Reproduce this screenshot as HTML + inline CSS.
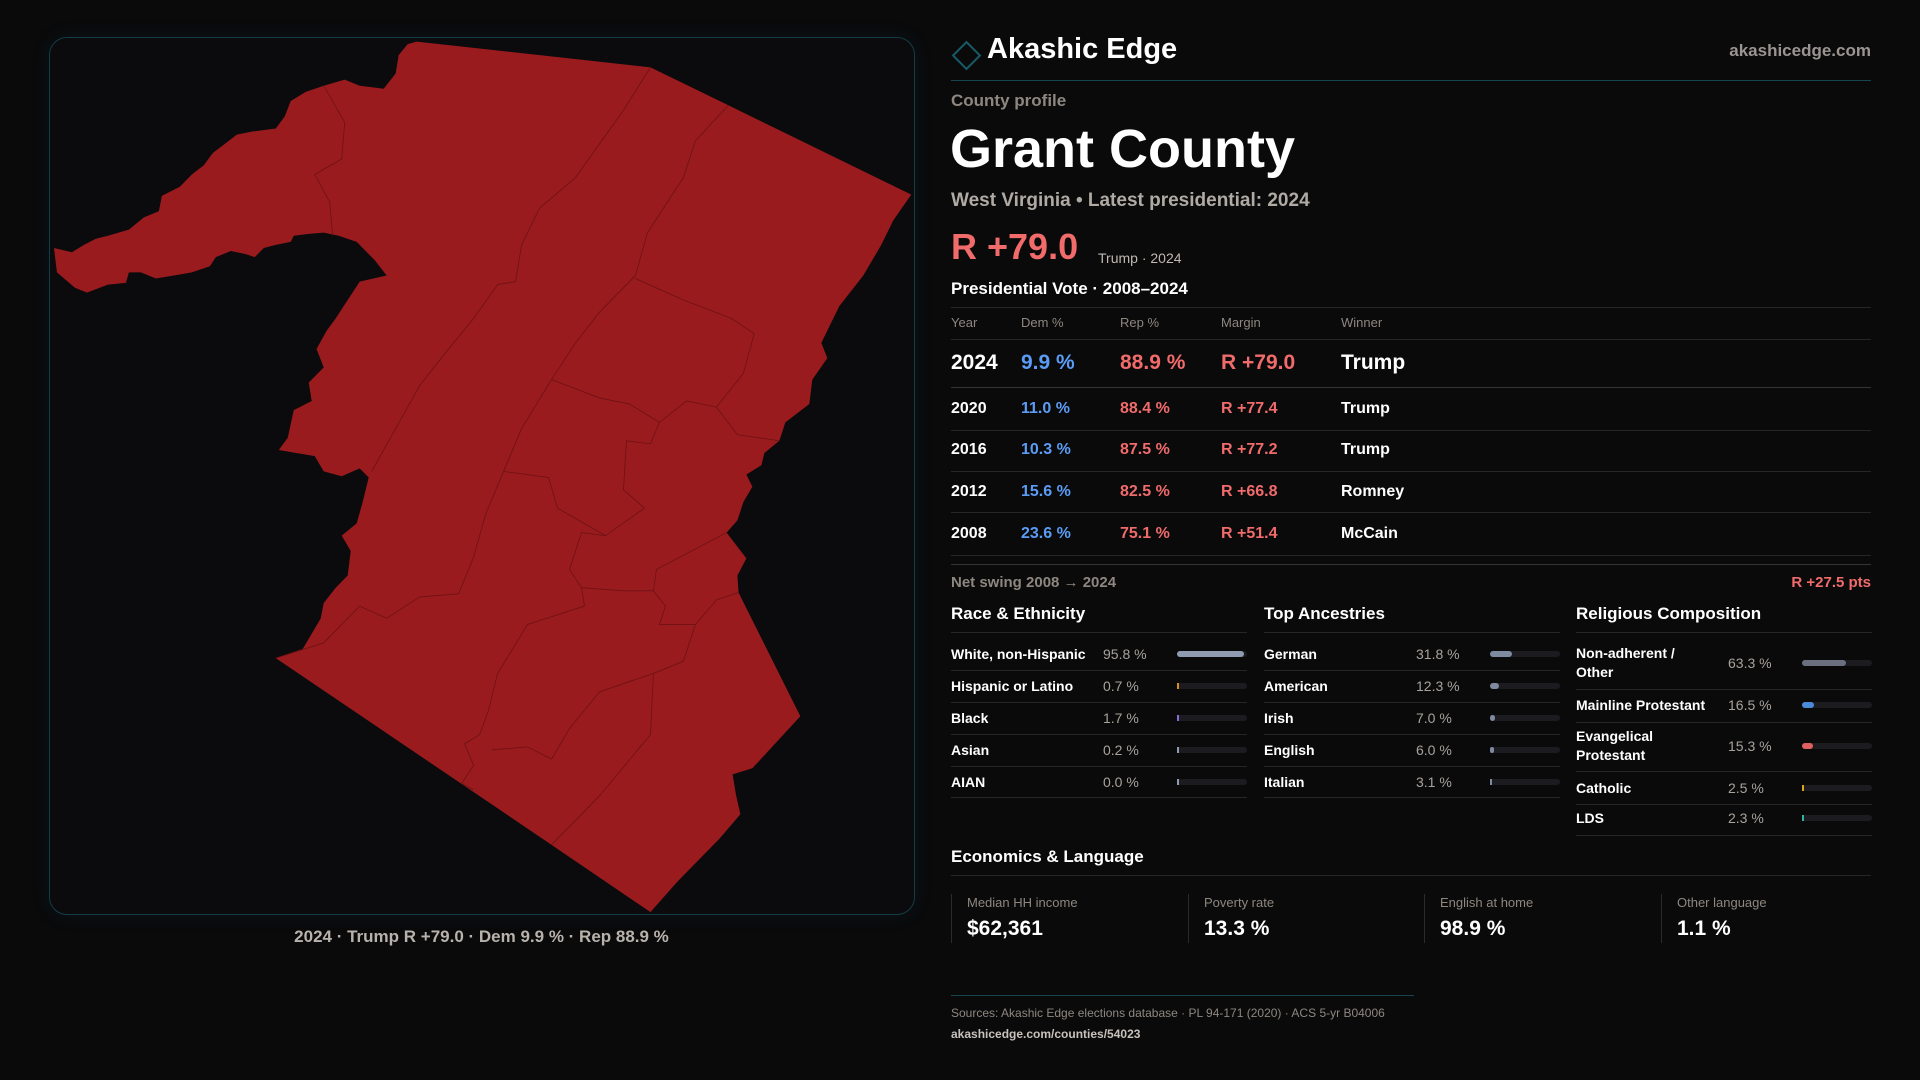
<!DOCTYPE html>
<html><head><meta charset="utf-8"><title>Grant County profile</title>
<style>
html,body{margin:0;padding:0;background:#0a0a0b;}
body{width:1920px;height:1080px;position:relative;overflow:hidden;font-family:"Liberation Sans",sans-serif;color:#fff;}
.t{position:absolute;white-space:nowrap;line-height:1;}
.hl{position:absolute;height:1px;background:#26262a;}
.g{color:#8e8780;}
.b{color:#5b9cf5;}
.r{color:#f26b6b;}
.lbl{font-size:14px;color:#fff;font-weight:bold;}
.val{font-size:14px;color:#a8a29c;}
.row .t{font-weight:bold;}
</style></head>
<body>

<div style="position:absolute;left:49px;top:37px;width:864px;height:876px;border:1px solid #123c46;border-radius:18px;background:#0b0b0d;box-shadow:0 0 18px rgba(20,80,100,0.15);"></div>
<svg width="1920" height="1080" style="position:absolute;left:0;top:0;">
<g transform="scale(0.5995,0.6122)">
<path fill="#9a1b1e" stroke="none" d="M695,68 L1085,110 L1215,172 L1520,318 L1490,360 L1470,400 L1440,450 L1400,500 L1370,560 L1380,585 L1355,620 L1350,660 L1310,690 L1300,720 L1275,740 L1270,760 L1245,775 L1255,795 L1240,820 L1230,850 L1212,870 L1245,912 L1230,940 L1232,968 L1335,1170 L1255,1255 L1222,1265 L1228,1300 L1235,1330 L1200,1370 L1160,1410 L1130,1440 L1085,1490 L920,1380 L460,1075 L505,1060 L520,1035 L535,1010 L540,985 L560,960 L580,940 L585,900 L570,875 L595,855 L605,820 L615,780 L600,765 L570,778 L540,770 L525,745 L465,735 L480,715 L490,670 L520,655 L515,625 L540,600 L528,570 L545,540 L560,520 L580,490 L600,460 L645,450 L625,425 L610,410 L595,395 L565,385 L540,380 L515,382 L490,385 L485,395 L460,400 L440,405 L425,420 L410,415 L385,410 L360,420 L350,435 L320,445 L290,450 L260,455 L235,445 L215,445 L210,462 L180,465 L145,478 L125,470 L95,445 L90,405 L120,412 L140,400 L160,390 L180,385 L215,375 L240,355 L265,345 L270,320 L300,305 L320,285 L340,270 L355,250 L375,235 L395,220 L420,215 L460,210 L475,190 L485,165 L510,150 L540,140 L575,130 L600,140 L640,145 L660,120 L665,90 L680,72 Z"/>
<g fill="none" stroke="#6e1214" stroke-width="1.4">
<path d="M1085,110 L1040,180 L960,290 L900,340 L870,400 L860,460 L830,465 L790,520 L740,580 L700,630 L620,770"/>
<path d="M1215,172 L1160,230 L1140,290 L1080,380 L1060,450 L1000,510 L960,560 L920,620 L870,700 L840,770 L810,840 L790,910 L765,970 L700,975 L645,1010 L600,990 L570,1020 L540,1050 L460,1075"/>
<path d="M1060,455 L1140,490 L1220,520 L1258,545 L1240,610 L1195,665 L1230,710 L1300,720"/>
<path d="M920,620 L1000,650 L1050,660 L1100,690 L1145,655 L1195,665"/>
<path d="M1100,690 L1085,725 L1045,720 L1040,800 L1075,830 L1010,875 L930,830 L915,780 L840,770"/>
<path d="M1212,870 L1095,930 L1090,965 L1040,965 L970,960 L950,930 L970,870 L1010,875"/>
<path d="M1232,968 L1195,980 L1160,1020 L1140,1080 L1090,1100 L1085,1200 L1000,1300 L920,1380"/>
<path d="M1090,965 L1110,990 L1100,1020 L1160,1020"/>
<path d="M970,960 L975,990 L880,1020 L830,1100 L815,1160 L800,1200 L775,1215 L790,1250 L770,1280 L790,1290"/>
<path d="M1090,1100 L1000,1130 L950,1190 L920,1240 L880,1220 L820,1225"/>
<path d="M540,140 L575,200 L570,260 L525,285 L550,330 L555,385"/>
</g>
</g>
</svg>
<div class="t" style="left:0;width:963px;text-align:center;top:928px;font-size:17px;color:#b8b2ac;font-weight:bold;">2024 · Trump R +79.0 · Dem 9.9 % · Rep 88.9 %</div>

<div style="position:absolute;left:956px;top:45px;width:17px;height:17px;border:2px solid #175a68;transform:rotate(45deg);"></div>
<div class="t" style="left:987px;top:35px;font-size:29px;font-weight:bold;">Akashic Edge</div>
<div class="t" style="right:49px;top:42px;font-size:17px;color:#9a9590;font-weight:bold;">akashicedge.com</div>
<div class="hl" style="left:951px;width:920px;top:80px;background:#16444f;"></div>

<div class="t g" style="left:951px;top:92px;font-size:17px;font-weight:bold;">County profile</div>
<div class="t" style="left:950px;top:122px;font-size:54px;font-weight:bold;">Grant County</div>
<div class="t" style="left:951px;top:191px;font-size:19px;color:#b0aaa4;font-weight:bold;">West Virginia • Latest presidential: 2024</div>
<div class="t r" style="left:951px;top:229px;font-size:36px;font-weight:bold;">R +79.0</div>
<div class="t" style="left:1098px;top:251px;font-size:14px;color:#c0b8b0;">Trump · 2024</div>
<div class="t" style="left:951px;top:280px;font-size:17px;font-weight:bold;">Presidential Vote · 2008–2024</div>

<div class="hl" style="left:951px;width:920px;top:307px;"></div>
<div>
<div class="t g" style="left:951px;top:316px;font-size:13px;">Year</div>
<div class="t g" style="left:1021px;top:316px;font-size:13px;">Dem %</div>
<div class="t g" style="left:1120px;top:316px;font-size:13px;">Rep %</div>
<div class="t g" style="left:1221px;top:316px;font-size:13px;">Margin</div>
<div class="t g" style="left:1341px;top:316px;font-size:13px;">Winner</div>
</div>
<div class="hl" style="left:951px;width:920px;top:339px;"></div>
<div class="row">
<div class="t" style="left:951px;top:352px;font-size:21px;">2024</div>
<div class="t b" style="left:1021px;top:352px;font-size:21px;">9.9 %</div>
<div class="t r" style="left:1120px;top:352px;font-size:21px;">88.9 %</div>
<div class="t r" style="left:1221px;top:352px;font-size:21px;">R +79.0</div>
<div class="t" style="left:1341px;top:352px;font-size:21px;">Trump</div>
</div>
<div class="hl" style="left:951px;width:920px;top:387px;background:#333338;"></div>
<div class="row">
<div class="t" style="left:951px;top:401px;font-size:16px;">2020</div>
<div class="t b" style="left:1021px;top:401px;font-size:16px;">11.0 %</div>
<div class="t r" style="left:1120px;top:401px;font-size:16px;">88.4 %</div>
<div class="t r" style="left:1221px;top:401px;font-size:16px;">R +77.4</div>
<div class="t" style="left:1341px;top:401px;font-size:16px;">Trump</div>
</div>
<div class="hl" style="left:951px;width:920px;top:430px;"></div>
<div class="row">
<div class="t" style="left:951px;top:442px;font-size:16px;">2016</div>
<div class="t b" style="left:1021px;top:442px;font-size:16px;">10.3 %</div>
<div class="t r" style="left:1120px;top:442px;font-size:16px;">87.5 %</div>
<div class="t r" style="left:1221px;top:442px;font-size:16px;">R +77.2</div>
<div class="t" style="left:1341px;top:442px;font-size:16px;">Trump</div>
</div>
<div class="hl" style="left:951px;width:920px;top:471px;"></div>
<div class="row">
<div class="t" style="left:951px;top:484px;font-size:16px;">2012</div>
<div class="t b" style="left:1021px;top:484px;font-size:16px;">15.6 %</div>
<div class="t r" style="left:1120px;top:484px;font-size:16px;">82.5 %</div>
<div class="t r" style="left:1221px;top:484px;font-size:16px;">R +66.8</div>
<div class="t" style="left:1341px;top:484px;font-size:16px;">Romney</div>
</div>
<div class="hl" style="left:951px;width:920px;top:512px;"></div>
<div class="row">
<div class="t" style="left:951px;top:526px;font-size:16px;">2008</div>
<div class="t b" style="left:1021px;top:526px;font-size:16px;">23.6 %</div>
<div class="t r" style="left:1120px;top:526px;font-size:16px;">75.1 %</div>
<div class="t r" style="left:1221px;top:526px;font-size:16px;">R +51.4</div>
<div class="t" style="left:1341px;top:526px;font-size:16px;">McCain</div>
</div>
<div class="hl" style="left:951px;width:920px;top:555px;"></div>
<div class="hl" style="left:951px;width:920px;top:564px;background:#333338;"></div>

<div class="t g" style="left:951px;top:575px;font-size:15px;font-weight:bold;">Net swing 2008 → 2024</div>
<div class="t r" style="right:49px;top:575px;font-size:15px;font-weight:bold;">R +27.5 pts</div>

<div class="t" style="left:951px;top:605px;font-size:17px;font-weight:bold;">Race &amp; Ethnicity</div>
<div class="t" style="left:1264px;top:605px;font-size:17px;font-weight:bold;">Top Ancestries</div>
<div class="t" style="left:1576px;top:605px;font-size:17px;font-weight:bold;">Religious Composition</div>
<div id="demo"></div>

<div class="t" style="left:951px;top:848px;font-size:17px;font-weight:bold;">Economics &amp; Language</div>
<div class="hl" style="left:951px;width:920px;top:875px;"></div>
<div id="econ"></div>

<div class="hl" style="left:951px;width:463px;top:995px;background:#16444f;"></div>
<div class="t g" style="left:951px;top:1007px;font-size:12px;">Sources: Akashic Edge elections database · PL 94-171 (2020) · ACS 5-yr B04006</div>
<div class="t" style="left:951px;top:1028px;font-size:12px;color:#c8c2bc;font-weight:bold;">akashicedge.com/counties/54023</div>

<script>
const raceLabels = ["White, non-Hispanic","Hispanic or Latino","Black","Asian","AIAN"];
const raceValues = [95.8, 0.7, 1.7, 0.2, 0.0];
const ancLabels = ["German","American","Irish","English","Italian"];
const ancValues = [31.8, 12.3, 7.0, 6.0, 3.1];
const relLabels = ["Non-adherent /\nOther","Mainline Protestant","Evangelical\nProtestant","Catholic","LDS"];
const relValues = [63.3, 16.5, 15.3, 2.5, 2.3];
const econLabels = ["Median HH income","Poverty rate","English at home","Other language"];
const econValues = ["$62,361","13.3 %","98.9 %","1.1 %"];

const raceColors = ["#8e9bb0","#d98a2b","#8a6ad8","#8e9bb0","#8e9bb0"];
const ancColors = ["#7e8aa0","#7e8aa0","#7e8aa0","#7e8aa0","#7e8aa0"];
const relColors = ["#6a7080","#4a8ad8","#e06060","#d9a520","#2bb5a8"];

const demo = document.getElementById('demo');
function barW(v, w){ return Math.max(2, v/100*w); }
function addCol(x, labels, values, colors, centers, lines, key){
  const W = 296;
  const hl = document.createElement('div');
  hl.className='hl'; hl.style.left=x+'px'; hl.style.width=W+'px'; hl.style.top='632px';
  demo.appendChild(hl);
  labels.forEach((lab,i)=>{
    const cy = centers[i];
    const row = document.createElement('div');
    
    
    const two = lab.indexOf('\n')>=0;
    const l = document.createElement('div');
    l.className='t lbl';
    l.style.left=x+'px';
    l.style.lineHeight= two ? '19px':'1';
    l.style.top=(two? cy-19 : cy-7)+'px';
    l.style.whiteSpace='pre';
    l.textContent=lab;
    row.appendChild(l);
    const v = document.createElement('div');
    v.className='t val';
    v.style.left=(x+152)+'px'; v.style.top=(cy-7)+'px';
    v.textContent=values[i].toFixed(1)+' %';
    row.appendChild(v);
    const tr = document.createElement('div');
    
    
    tr.style.cssText='position:absolute;left:'+(x+226)+'px;top:'+(cy-3)+'px;width:70px;height:6px;border-radius:3px;background:#1c1c20;';
    row.appendChild(tr);
    const b = document.createElement('div');
    
    
    const bw = barW(values[i],70);
    b.style.cssText='position:absolute;left:'+(x+226)+'px;top:'+(cy-3)+'px;width:'+bw+'px;height:6px;border-radius:'+(bw>4?3:0)+'px;background:'+colors[i]+';';
    row.appendChild(b);
    demo.appendChild(row);
    const ln = document.createElement('div');
    ln.className='hl'; ln.style.left=x+'px'; ln.style.width=W+'px'; ln.style.top=lines[i]+'px';
    demo.appendChild(ln);
  });
}
addCol(951, raceLabels, raceValues, raceColors, [654,686,718,750,782], [670,702,734,766,797], 'race');
addCol(1264, ancLabels, ancValues, ancColors, [654,686,718,750,782], [670,702,734,766,797], 'ancestry');
addCol(1576, relLabels, relValues, relColors, [663,705,746,788,818], [689,722,771,804,835], 'religion');

const econ = document.getElementById('econ');
const ex = [951,1188,1424,1661];
econLabels.forEach((lab,i)=>{
  const box = document.createElement('div');
  
  
  box.style.cssText='position:absolute;left:'+ex[i]+'px;top:894px;width:210px;height:49px;border-left:1px solid #2a2a2e;';
  const l = document.createElement('div');
  l.className='t g'; l.style.left='15px'; l.style.top='2px'; l.style.fontSize='13px';
  l.textContent=lab;
  box.appendChild(l);
  const v = document.createElement('div');
  v.className='t'; v.style.left='15px'; v.style.top='24px'; v.style.fontSize='21px'; v.style.fontWeight='bold';
  v.textContent=econValues[i];
  box.appendChild(v);
  econ.appendChild(box);
});
</script>
</body></html>
